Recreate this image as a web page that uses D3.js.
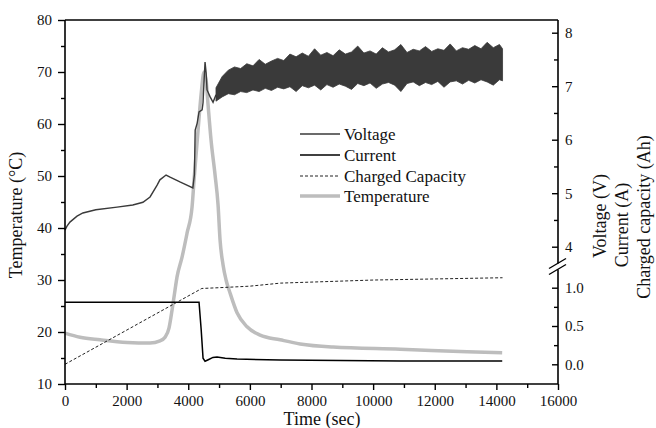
<!DOCTYPE html>
<html>
<head>
<meta charset="utf-8">
<script src="https://cdn.jsdelivr.net/npm/d3@7"></script>
<style>
  body { margin: 0; background: #fff; }
  text { font-family: "Liberation Serif", "Times New Roman", serif; fill: #111; }
</style>
</head>
<body>
<script>
const WIDTH = 656;
const HEIGHT = 428;

// temperature (left axis, °C)
const tempTime = [0, 487, 1136, 2013, 2760, 3084, 3247, 3377, 3474, 3571, 3636, 3799, 3961, 4123, 4188, 4318, 4416, 4513, 4578, 4643, 4740, 4870, 4968, 5032, 5130, 5227, 5357, 5584, 5909, 6331, 6981, 7630, 8701, 10877, 13052, 14188];
const tempVal  = [19.8, 19.0, 18.5, 18.0, 17.9, 18.3, 19.0, 20.8, 24.2, 28.1, 30.6, 34.4, 39.0, 44.0, 49.2, 58.8, 65.6, 70.0, 68.5, 63.7, 56.9, 50.2, 44.4, 37.7, 32.9, 30.0, 27.5, 23.7, 21.0, 19.4, 18.5, 17.7, 17.1, 16.7, 16.2, 16.0];

// voltage before the noisy part (right upper axis, V)
const voltTime = [0, 60, 160, 390, 580, 1000, 1690, 2200, 2530, 2760, 2990, 3080, 3280, 3410, 3730, 4150, 4200, 4225, 4290, 4350, 4450, 4480, 4515, 4545, 4580, 4610, 4710, 4805, 4900];
const voltVal  = [4.31, 4.38, 4.46, 4.57, 4.63, 4.69, 4.74, 4.78, 4.83, 4.93, 5.15, 5.25, 5.34, 5.30, 5.21, 5.10, 5.35, 6.18, 6.31, 6.52, 6.56, 6.69, 7.12, 7.45, 7.25, 6.93, 6.80, 6.70, 6.84];

// voltage noisy band: upper and lower envelope
const bandTime = [4900, 5100, 5300, 5500, 5700, 5900, 6100, 6300, 6500, 6700, 6900, 7100, 7300, 7500, 7700, 7900, 8100, 8300, 8500, 8700, 8900, 9100, 9300, 9500, 9700, 9900, 10100, 10300, 10500, 10700, 10900, 11100, 11300, 11500, 11700, 11900, 12100, 12300, 12500, 12700, 12900, 13100, 13300, 13500, 13700, 13900, 14100, 14200];
const bandHi = [6.97, 7.18, 7.30, 7.36, 7.33, 7.42, 7.38, 7.50, 7.41, 7.47, 7.52, 7.48, 7.60, 7.55, 7.62, 7.56, 7.70, 7.58, 7.63, 7.57, 7.68, 7.60, 7.64, 7.75, 7.62, 7.66, 7.60, 7.72, 7.64, 7.68, 7.78, 7.63, 7.69, 7.66, 7.74, 7.65, 7.70, 7.67, 7.79, 7.66, 7.72, 7.69, 7.76, 7.70, 7.82, 7.72, 7.78, 7.70];
const bandLo = [6.72, 6.80, 6.86, 6.84, 6.90, 6.88, 6.93, 6.90, 6.96, 6.92, 6.98, 6.95, 6.99, 6.90, 7.01, 6.97, 7.02, 6.93, 7.03, 6.98, 7.04, 7.00, 6.94, 7.05, 7.01, 7.06, 6.96, 7.04, 7.07, 7.02, 6.90, 7.05, 7.08, 7.01, 7.07, 7.03, 7.09, 6.98, 7.08, 7.10, 7.04, 7.11, 7.06, 7.12, 7.08, 7.02, 7.12, 7.10];

// current (right lower axis, A)
const currTime = [0, 4350, 4420, 4480, 4545, 4650, 4800, 4935, 5200, 5584, 6980, 10877, 14190];
const currVal  = [0.81, 0.81, 0.45, 0.08, 0.04, 0.06, 0.09, 0.095, 0.08, 0.07, 0.055, 0.043, 0.043];

// charged capacity (right lower axis, Ah)
const capTime = [0, 4440, 5000, 6000, 7000, 10000, 14200];
const capVal  = [0, 0.99, 1.0, 1.02, 1.06, 1.10, 1.13];

const xTicks = [0, 2000, 4000, 6000, 8000, 10000, 12000, 14000, 16000];
const tempTicks = [10, 20, 30, 40, 50, 60, 70, 80];
const voltTicks = [4, 5, 6, 7, 8];
const lowTicks = [0, 0.5, 1.0];
const legendItems = ['Voltage', 'Current', 'Charged Capacity', 'Temperature'];

const L = 65, R = 558, T = 20, B = 384;

const x = d3.scaleLinear().domain([0, 16000]).range([L, R]);
const yT = d3.scaleLinear().domain([10, 80]).range([B, T]);
const yV = d3.scaleLinear().domain([4, 8]).range([246.7, 32.7]);
const yA = d3.scaleLinear().domain([0, 1]).range([364.3, 287.7]);

const svg = d3.select('body').append('svg')
  .attr('width', WIDTH).attr('height', HEIGHT);

// curves
const zip = (ts, vs) => ts.map((t, i) => [t, vs[i]]);

svg.append('path')
  .datum(zip(tempTime, tempVal))
  .attr('d', d3.line().x(d => x(d[0])).y(d => yT(d[1])).curve(d3.curveMonotoneX))
  .attr('fill', 'none').attr('stroke', '#bdbdbd').attr('stroke-width', 3.5);

svg.append('path')
  .datum(zip(capTime, capVal))
  .attr('d', d3.line().x(d => x(d[0])).y(d => yA(d[1])))
  .attr('fill', 'none').attr('stroke', '#222').attr('stroke-width', 1)
  .attr('stroke-dasharray', '3,2');

svg.append('path')
  .datum(zip(currTime, currVal))
  .attr('d', d3.line().x(d => x(d[0])).y(d => yA(d[1])))
  .attr('fill', 'none').attr('stroke', '#000').attr('stroke-width', 1.5);

svg.append('path')
  .datum(zip(voltTime, voltVal))
  .attr('d', d3.line().x(d => x(d[0])).y(d => yV(d[1])))
  .attr('fill', 'none').attr('stroke', '#3a3a3a').attr('stroke-width', 1.4);

// noisy band: filled envelope plus a zig-zag trace between the envelope values
const band = bandTime.map((t, i) => [t, bandHi[i], bandLo[i]]);
svg.append('path')
  .datum(band)
  .attr('d', d3.area().x(d => x(d[0])).y0(d => yV(d[2])).y1(d => yV(d[1])))
  .attr('fill', '#3a3a3a').attr('stroke', '#3a3a3a').attr('stroke-width', 0.8);

// axes
const fontTick = '15px';

svg.append('g').attr('transform', `translate(${L},0)`)
  .call(d3.axisLeft(yT).tickValues(tempTicks).tickSize(7).tickPadding(6));
svg.append('g').attr('transform', `translate(${L},0)`)
  .call(d3.axisLeft(yT).tickValues([15, 25, 35, 45, 55, 65, 75]).tickSize(4).tickFormat(''));

svg.append('g').attr('transform', `translate(0,${B})`)
  .call(d3.axisBottom(x).tickValues(xTicks).tickFormat(d3.format('d')).tickSize(6).tickPadding(5));
svg.append('g').attr('transform', `translate(0,${B})`)
  .call(d3.axisBottom(x).tickValues([1000, 3000, 5000, 7000, 9000, 11000, 13000, 15000]).tickSize(4).tickFormat(''));

svg.append('g').attr('transform', `translate(${R},0)`)
  .call(d3.axisRight(yV).tickValues(voltTicks).tickFormat(d3.format('d')).tickSize(-6).tickPadding(7));
svg.append('g').attr('transform', `translate(${R},0)`)
  .call(d3.axisRight(yV).tickValues([4.5, 5.5, 6.5, 7.5]).tickSize(-4).tickFormat(''));

svg.append('g').attr('transform', `translate(${R},0)`)
  .call(d3.axisRight(yA).tickValues(lowTicks).tickFormat(d3.format('.1f')).tickSize(-6).tickPadding(7));
svg.append('g').attr('transform', `translate(${R},0)`)
  .call(d3.axisRight(yA).tickValues([0.25, 0.75]).tickSize(-4).tickFormat(''));

svg.selectAll('.domain').remove();
svg.selectAll('.tick line').attr('stroke', '#000').attr('stroke-width', 1.4);
svg.selectAll('.tick text')
  .style('font-family', '"Liberation Serif", serif')
  .style('font-size', fontTick).attr('fill', '#111');

// frame
const frame = svg.append('g').attr('stroke', '#000').attr('stroke-width', 1.6).attr('fill', 'none');
frame.append('line').attr('x1', L).attr('x2', L).attr('y1', T).attr('y2', B);
frame.append('line').attr('x1', L).attr('x2', R).attr('y1', B).attr('y2', B);
frame.append('line').attr('x1', L).attr('x2', R).attr('y1', T).attr('y2', T);
frame.append('line').attr('x1', R).attr('x2', R).attr('y1', T).attr('y2', 263.4);
frame.append('line').attr('x1', R).attr('x2', R).attr('y1', 269.4).attr('y2', B);
frame.append('line').attr('x1', 549).attr('y1', 268.5).attr('x2', 566).attr('y2', 258.5).attr('stroke-width', 1.4);
frame.append('line').attr('x1', 549).attr('y1', 274.5).attr('x2', 566).attr('y2', 264.5).attr('stroke-width', 1.4);

// titles
svg.append('text')
  .attr('transform', 'translate(22,215) rotate(-90)')
  .attr('text-anchor', 'middle').style('font-size', '18px')
  .text('Temperature (°C)');

svg.append('text')
  .attr('x', 322).attr('y', 425)
  .attr('text-anchor', 'middle').style('font-size', '18px')
  .text('Time (sec)');

const rightTitles = [['Voltage (V)', 606, 216], ['Current (A)', 628, 225], ['Charged capacity (Ah)', 650, 217]];
rightTitles.forEach(r => {
  svg.append('text')
    .attr('transform', `translate(${r[1]},${r[2]}) rotate(-90)`)
    .attr('text-anchor', 'middle').style('font-size', '18px')
    .text(r[0]);
});

// legend
const legStyles = [
  { stroke: '#3a3a3a', w: 1.4, dash: null },
  { stroke: '#000', w: 1.5, dash: null },
  { stroke: '#222', w: 1, dash: '3,2' },
  { stroke: '#bdbdbd', w: 3.5, dash: null }
];
const legY = [134, 155, 176, 196];
const leg = svg.append('g');
legendItems.forEach((name, i) => {
  leg.append('line')
    .attr('x1', 300).attr('x2', 340).attr('y1', legY[i]).attr('y2', legY[i])
    .attr('stroke', legStyles[i].stroke).attr('stroke-width', legStyles[i].w)
    .attr('stroke-dasharray', legStyles[i].dash);
  leg.append('text')
    .attr('x', 344).attr('y', legY[i]).attr('dy', '0.35em')
    .style('font-size', '17px')
    .text(name);
});
</script>
</body>
</html>
